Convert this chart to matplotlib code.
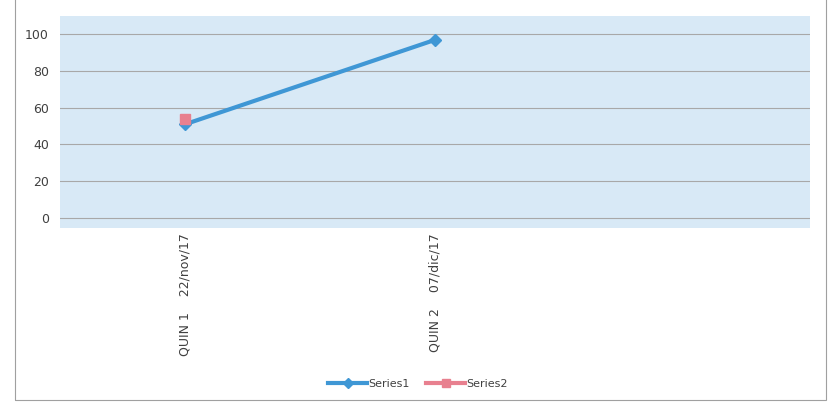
import matplotlib.pyplot as plt
from matplotlib.patches import Rectangle

categories = ["QUIN 1    22/nov/17", "QUIN 2    07/dic/17", ""]
series1 = [51, 97]
series2 = [54]

fig = plt.figure(figsize=(8.36, 4.09), dpi=100)
ax = fig.add_axes([60/836, 1-228/409, 750/836, 212/409])
ax.set_facecolor("#d8e9f6")

x = list(range(len(categories)))
ax.plot(x[:len(series1)], series1, color="#3f97d5", lw=3, marker="D", ms=6, label="Series1", zorder=3)
ax.plot(x[:len(series2)], series2, color="#e8808f", lw=3, marker="s", ms=7, label="Series2", zorder=4)

ax.set_xlim(-0.5, 2.5)
ax.set_ylim(-5.5, 110)
ax.set_yticks(range(0, 101, 20))
ax.set_xticks(x)
ax.set_xticklabels(categories, rotation=90, fontsize=9, color="#404040")
ax.tick_params(axis="y", labelsize=9, labelcolor="#404040", length=0, pad=8)
ax.tick_params(axis="x", length=0, pad=4)
ax.grid(axis="y", color="#a8a8a8", lw=0.8)
ax.set_axisbelow(True)
for s in ax.spines.values():
    s.set_visible(False)

fig.legend(loc="lower center", bbox_to_anchor=(0.5, 0.025), ncol=2, frameon=False,
           fontsize=8, handlelength=3.5, handletextpad=0.1, columnspacing=1.5,
           labelcolor="#404040", markerscale=0.8)

fig.patches.append(Rectangle((15/836, 9/409), 811/836, 420/409, transform=fig.transFigure,
                             fill=False, edgecolor="#a0a0a0", lw=0.8))

fig.savefig("out.png", dpi=100)
